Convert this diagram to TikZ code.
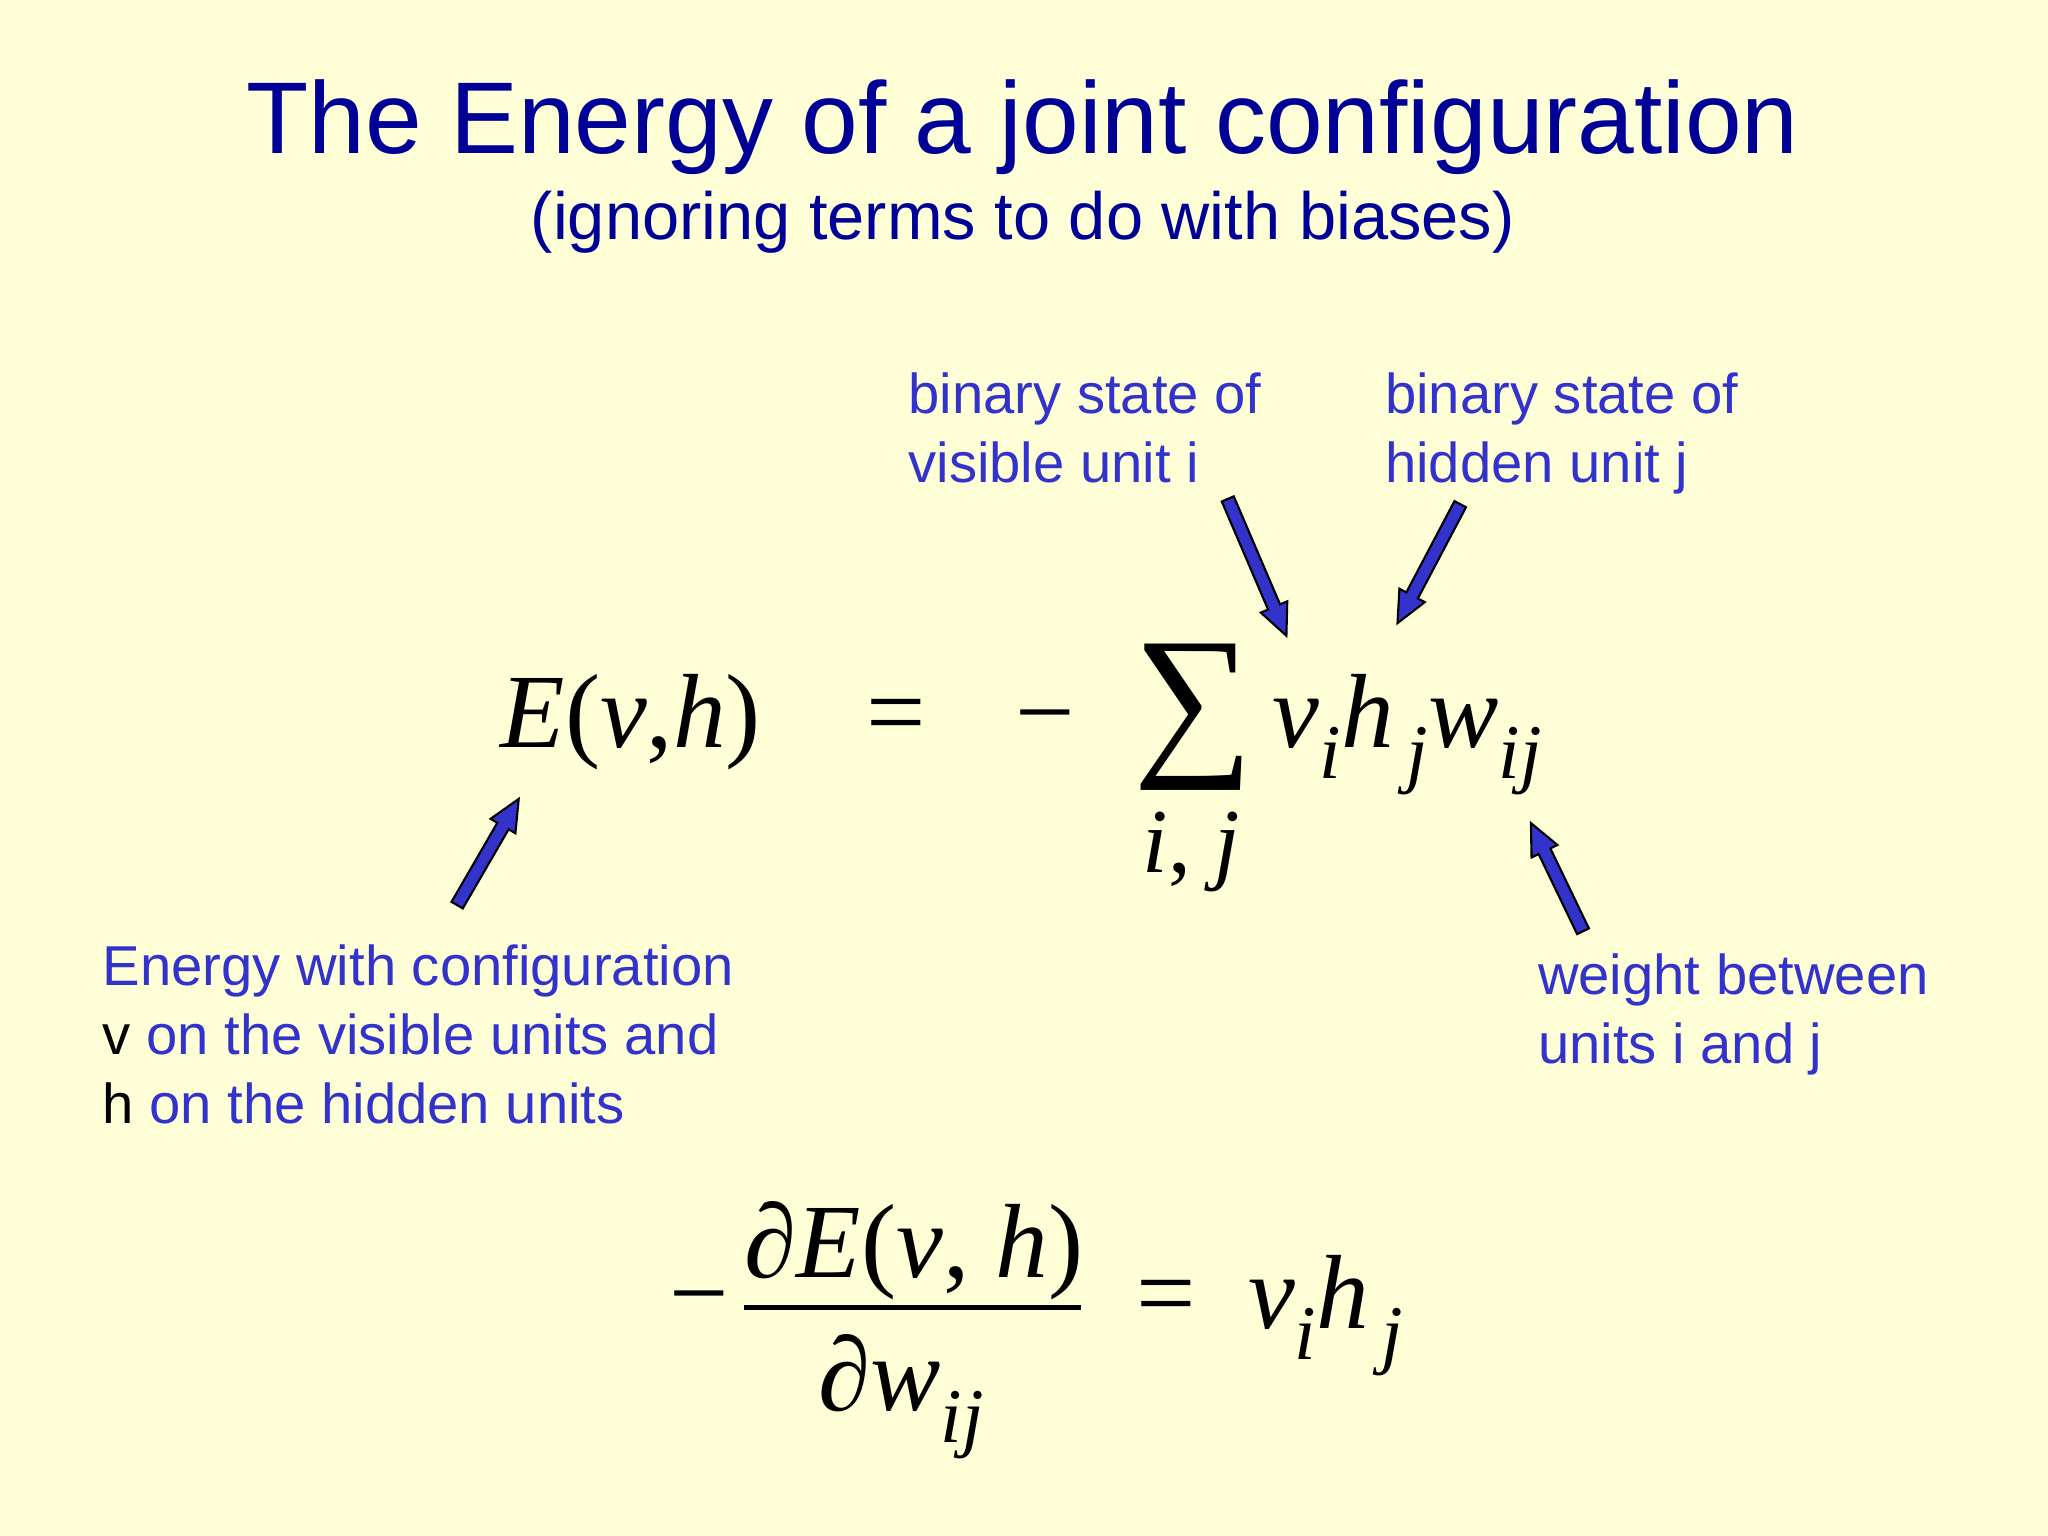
\documentclass[tikz,border=0pt]{standalone}
\usepackage{fontspec}
\setmainfont{Liberation Sans}
\newfontfamily\serif{Liberation Serif}
\definecolor{bg}{RGB}{255,255,215}
\definecolor{ttl}{RGB}{0,0,150}
\definecolor{lbl}{RGB}{51,51,204}
\newcommand{\mi}[1]{{\serif\itshape #1}}
\newcommand{\sbs}[1]{\raisebox{-0.3em}{\fontsize{22}{26}\selectfont\mi{#1}}}
\newcommand{\blkarrow}[5]{%
 \begin{scope}[shift={(#1,#2)},x=0.01306cm,y=0.01306cm,rotate=#3]
 \draw[fill=lbl,line width=0.6pt,line join=miter] (0,-5)--(#4-24,-5)--(#4-24,-11)--(#4,0)--(#4-24,11)--(#4-24,5)--(0,5)--cycle;
 \coordinate (#5) at (#4,0);
 \end{scope}}
\begin{document}
\begin{tikzpicture}[x=0.01306cm,y=-0.01306cm,
  lab/.style={anchor=north west,align=left,text=lbl,font=\fontsize{16}{19.6}\selectfont,inner sep=0},
  eq/.style={font=\fontsize{30}{36}\selectfont\serif,inner sep=0}]
\fill[bg] (0,0) rectangle (1568,1176);
\node[text=ttl,font=\fontsize{29}{34}\selectfont] (t) at (783,97) {The Energy of a joint configuration};
\node[text=ttl,font=\fontsize{19}{22}\selectfont] (s) at (783,170) {(ignoring terms to do with biases)};
\node[lab] (l1) at (695,285) {binary state of\\visible unit i};
\node[lab] (l2) at (1060,285) {binary state of\\hidden unit j};
\node[lab] (l3) at (1177,730) {weight between\\units i and j};
\node[lab] (l4) at (78,723) {Energy with configuration\\\textcolor{black}{v} on the visible units and\\\textcolor{black}{h} on the hidden units};
% main equation
\node[eq,anchor=base] (e1) at (483,572) {\mi{E}(\mi{v},\mi{h})};
\node[eq,anchor=base] (eqs) at (686,572) {=};
\node[eq,anchor=base] (mn) at (800,572) {−};
\node[inner sep=0,anchor=base,font=\fontsize{48}{52}\selectfont\serif] (sum) at (914,578) {∑};
\node[eq,anchor=base,font=\fontsize{26}{30}\selectfont\serif] (sub) at (912,668) {\mi{i}, \mi{j}};
\node[eq,anchor=base west] (vh) at (974,572) {\mi{v}\sbs{i}\mi{h}\sbs{\,j}\mi{w}\sbs{ij}};
% bottom equation
\node[eq,anchor=base] (m2) at (535,1017) {−};
\node[eq,anchor=base] (num) at (700,978) {∂\mi{E}(\mi{v}, \mi{h})};
\node[eq,anchor=base] (den) at (690,1080) {∂\mi{w}\sbs{ij}};
\coordinate (f1) at (570,1001); \coordinate (f2) at (828,1001);
\draw[line width=1.2pt] (f1) -- (f2);
\node[eq,anchor=base] (eq2) at (893,1017) {=};
\node[eq,anchor=base west] (rhs) at (955,1017) {\mi{v}\sbs{i}\mi{h}\sbs{\,j}};
% arrows
\blkarrow{940}{382}{-66.8}{114}{p1}
\blkarrow{1118}{386}{-117.8}{103}{p2}
\blkarrow{350}{693}{59.9}{94}{p3}
\blkarrow{1212}{713}{115.7}{92}{p4}
\end{tikzpicture}
\end{document}
